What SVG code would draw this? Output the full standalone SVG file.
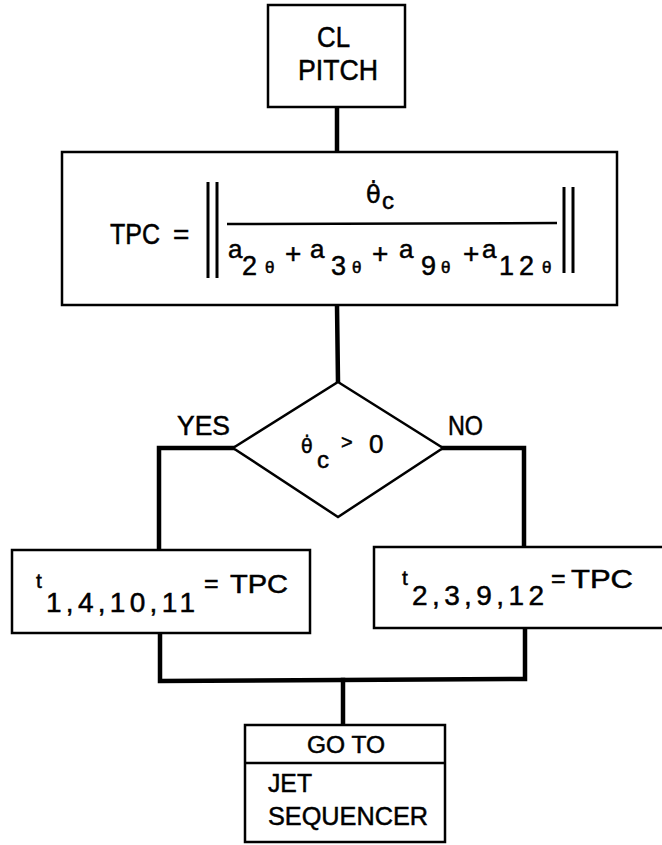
<svg xmlns="http://www.w3.org/2000/svg" width="662" height="845" viewBox="0 0 662 845">
<style>
.box{fill:#fff;stroke:#000;stroke-width:2.5}
.conn{fill:none;stroke:#000;stroke-width:4.5;stroke-linecap:square;stroke-linejoin:miter}
.thin{fill:none;stroke:#000;stroke-width:3}
text{font-family:"Liberation Sans",Arial,sans-serif;fill:#000;stroke:#000;stroke-width:0.5}
.dj{font-family:"DejaVu Sans",sans-serif}
</style>
<rect width="662" height="845" fill="#fff"/>
<g id="connectors">
  <line class="conn" x1="337" y1="108" x2="337" y2="152"/>
  <line class="conn" x1="337" y1="305" x2="338" y2="382"/>
  <polyline class="conn" points="233,448 159,448 159,550"/>
  <polyline class="conn" points="443,448 524,448 524,547"/>
  <polyline class="conn" points="160,633 160,681 525,679 525,628"/>
  <line class="conn" x1="343" y1="680" x2="343" y2="725"/>
</g>
<g id="cl-pitch">
  <rect class="box" x="268" y="5" width="137" height="102"/>
  <text x="317" y="47" font-size="29" textLength="33" lengthAdjust="spacingAndGlyphs">CL</text>
  <text x="298" y="80" font-size="29" textLength="80" lengthAdjust="spacingAndGlyphs">PITCH</text>
</g>
<g id="tpc">
  <rect class="box" x="62" y="152" width="555" height="153"/>
  <text x="110" y="244" font-size="29" textLength="50" lengthAdjust="spacingAndGlyphs">TPC</text>
  <text x="173" y="244" font-size="28">=</text>
  <line class="thin" x1="208" y1="182" x2="208" y2="278"/>
  <line class="thin" x1="217" y1="182" x2="217" y2="278"/>
  <line class="thin" x1="564" y1="187" x2="564" y2="273"/>
  <line class="thin" x1="573" y1="187" x2="573" y2="273"/>
  <line x1="227" y1="224" x2="557" y2="223" stroke="#000" stroke-width="2.5"/>
  <text class="dj" x="366" y="203" font-size="24">θ̇</text>
  <text x="382" y="209" font-size="24">c</text>
  <text x="228" y="258" font-size="26">a</text>
  <text x="242" y="275" font-size="27">2</text>
  <text x="265" y="273" font-size="17">θ</text>
  <text x="285" y="263" font-size="28">+</text>
  <text x="310" y="258" font-size="26">a</text>
  <text x="331" y="275" font-size="27">3</text>
  <text x="352" y="273" font-size="17">θ</text>
  <text x="372" y="263" font-size="28">+</text>
  <text x="399" y="258" font-size="26">a</text>
  <text x="421" y="275" font-size="27">9</text>
  <text x="441" y="273" font-size="17">θ</text>
  <text x="463" y="263" font-size="28">+</text>
  <text x="482" y="258" font-size="26">a</text>
  <text x="499" y="275" font-size="27" textLength="35" lengthAdjust="spacing">12</text>
  <text x="542" y="273" font-size="17">θ</text>
</g>
<g id="decision">
  <polygon class="box" points="338,382 443,448 338,517 233,448"/>
  <text class="dj" x="301" y="453" font-size="19">θ̇</text>
  <text x="317" y="468" font-size="24">c</text>
  <text x="341" y="449" font-size="20">&gt;</text>
  <text x="369" y="453" font-size="26">0</text>
  <text x="177" y="435" font-size="27" textLength="53" lengthAdjust="spacingAndGlyphs">YES</text>
  <text x="448" y="435" font-size="27" textLength="35" lengthAdjust="spacingAndGlyphs">NO</text>
</g>
<g id="yes-box">
  <rect class="box" x="12" y="550" width="298" height="83"/>
  <text x="36" y="588" font-size="21">t</text>
  <text x="46" y="612" font-size="28" textLength="149" lengthAdjust="spacing">1,4,10,11</text>
  <text x="204" y="592" font-size="25">=</text>
  <text x="230" y="593" font-size="25" textLength="58" lengthAdjust="spacingAndGlyphs">TPC</text>
</g>
<g id="no-box">
  <rect class="box" x="374" y="547" width="300" height="81"/>
  <text x="402" y="585" font-size="21">t</text>
  <text x="412" y="605" font-size="28" textLength="132" lengthAdjust="spacing">2,3,9,12</text>
  <text x="551" y="587" font-size="25">=</text>
  <text x="571" y="588" font-size="25" textLength="62" lengthAdjust="spacingAndGlyphs">TPC</text>
</g>
<g id="goto">
  <rect class="box" x="245" y="725" width="200" height="117"/>
  <line x1="245" y1="763" x2="445" y2="763" stroke="#000" stroke-width="2.5"/>
  <text x="307" y="753" font-size="23" textLength="78" lengthAdjust="spacingAndGlyphs">GO TO</text>
  <text x="268" y="792" font-size="26" textLength="44" lengthAdjust="spacingAndGlyphs">JET</text>
  <text x="268" y="825" font-size="26" textLength="160" lengthAdjust="spacingAndGlyphs">SEQUENCER</text>
</g>
</svg>
